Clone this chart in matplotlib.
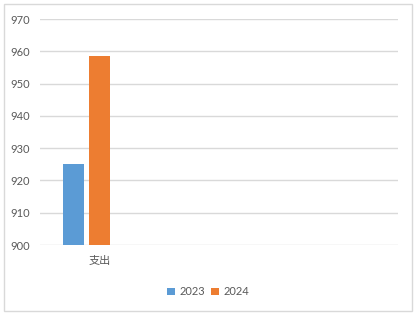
import numpy as np
import matplotlib.pyplot as plt
from matplotlib.patches import Rectangle

plt.rcParams['font.family'] = ['Lato', 'Noto Sans CJK SC', 'DejaVu Sans']

categories = ['支出', '', '']
series = ['2023', '2024']
values_2023 = [925, np.nan, np.nan]
values_2024 = [958.5, np.nan, np.nan]
colors = ['#5B9BD5', '#ED7D31']

fig = plt.figure(figsize=(4.18, 3.17), dpi=100)
ax = fig.add_axes([0.0957, 0.227, 0.856, 0.713])

x = np.arange(len(categories))
w = 0.176
pitch = 0.218
ax.bar(x - pitch, values_2023, w, color=colors[0], label=series[0])
ax.bar(x, values_2024, w, color=colors[1], label=series[1])

ax.set_xlim(-0.5, len(categories) - 0.5)
ax.set_ylim(900, 970)
ax.set_yticks(range(900, 971, 10))
ax.set_xticks(x)
ax.set_xticklabels(categories)
ax.grid(axis='y', color='#d9d9d9', linewidth=1)
ax.set_axisbelow(True)
for s in ax.spines.values():
    s.set_visible(False)
ax.tick_params(length=0, colors='#595959', labelsize=8)
ax.tick_params(axis='x', pad=7)
ax.tick_params(axis='y', pad=7)

fig.legend(loc='center', bbox_to_anchor=(0.498, 0.079), ncol=2, frameon=False,
           fontsize=8, handlelength=0.7, handleheight=0.7, handletextpad=0.4,
           columnspacing=0.5, labelcolor='#595959')

fig.patches.append(Rectangle((4 / 418, 1 - 311 / 317), 408 / 418, 307 / 317,
                             transform=fig.transFigure, fill=False,
                             edgecolor='#d9d9d9', linewidth=1))

fig.savefig('out.png', dpi=100)
